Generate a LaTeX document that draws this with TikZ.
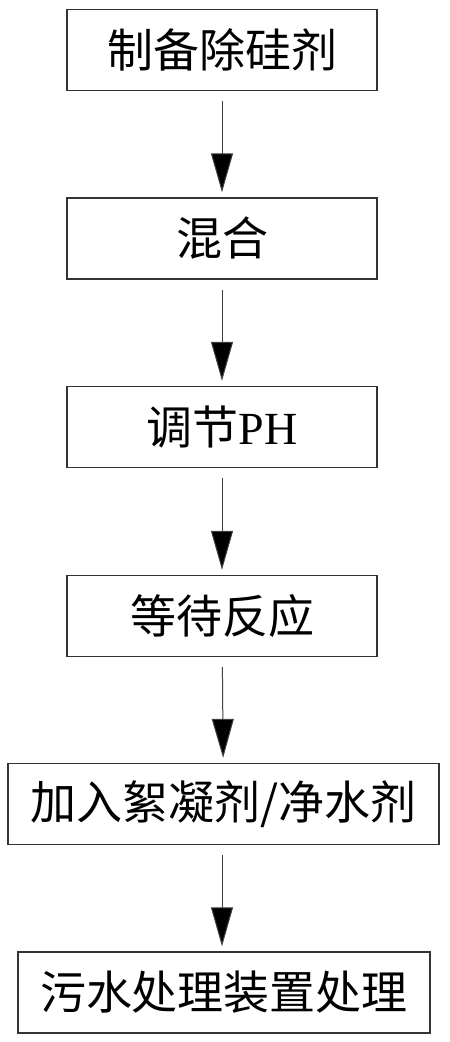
\documentclass[tikz,border=0pt]{standalone}
\usepackage{fontspec}
\setmainfont{Liberation Serif}
\newfontfamily\cjk{Noto Sans CJK SC}
\usetikzlibrary{arrows.meta}
\tikzset{
	stepbox/.style={draw=black!80, line width=1.3pt, minimum height=81pt, inner sep=0pt, font=\fontsize{46}{50}\selectfont\cjk},
	flow/.style={draw=black!75, line width=1pt, -{Triangle[length=39pt,width=22pt,fill=black]}, shorten <=10pt, shorten >=5pt}
}

\begin{document}
\begin{tikzpicture}[x=1pt, y=1pt]
			%%%%% START %%%%%
			
			\useasboundingbox (0, 0) rectangle (450, -1042);
			
			\node[stepbox, minimum width=310pt] (prep) at (222, -50) {制备除硅剂};
			\node[stepbox, minimum width=310pt] (mix) at (222, -238.5) {混合};
			\node[stepbox, minimum width=310pt] (ph) at (222, -427) {调节{\rmfamily PH}};
			\node[stepbox, minimum width=310pt] (wait) at (222, -616) {等待反应};
			\node[stepbox, minimum width=431pt] (floc) at (223.5, -804) {加入絮凝剂/净水剂};
			\node[stepbox, minimum width=412pt] (treat) at (224, -992.5) {污水处理装置处理};
			
			\draw[flow] (prep) -- (mix);
			\draw[flow] (mix) -- (ph);
			\draw[flow] (ph) -- (wait);
			\draw[flow] (wait) -- (floc);
			\draw[flow] (floc.south -| prep.south) -- (treat.north -| prep.south);
			
			%%%%% END %%%%%
		\end{tikzpicture}
\end{document}
